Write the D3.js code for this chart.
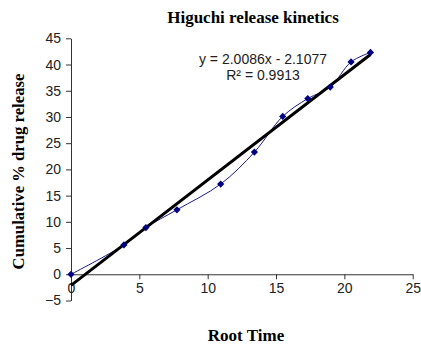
<!DOCTYPE html>
<html>
<head>
<meta charset="utf-8">
<script src="https://cdn.jsdelivr.net/npm/d3@7"></script>
<style>
  body { margin: 0; background: #fff; }
  svg { display: block; }
</style>
</head>
<body>
<svg id="chart" width="421" height="344"></svg>
<script>
// data (root time vs cumulative % release)
const rootTime = [0, 3.87, 5.48, 7.75, 10.95, 13.42, 15.49, 17.32, 18.97, 20.49, 21.91];
const released = [0, 5.6, 8.9, 12.3, 17.2, 23.3, 30.1, 33.5, 35.7, 40.5, 42.3];
const slope = 2.0086, intercept = -2.1077;
const eqLabel = 'y = 2.0086x - 2.1077';
const r2Label = 'R\u00b2 = 0.9913';
const xTicks = [0, 5, 10, 15, 20, 25];
const yTicks = [-5, 0, 5, 10, 15, 20, 25, 30, 35, 40, 45];

const svg = d3.select('#chart');

const x = d3.scaleLinear().domain([0, 25]).range([71, 412.7]);
const y = d3.scaleLinear().domain([-5, 45]).range([300.5, 38.3]);

const axisColor = '#333';

// y axis
const yAxis = svg.append('g')
    .attr('transform', `translate(${x(0)},0)`)
    .call(d3.axisLeft(y).tickValues(yTicks).tickSize(5).tickSizeOuter(0).tickPadding(5));
// x axis at y = 0
const xAxis = svg.append('g')
    .attr('transform', `translate(0,${y(0)})`)
    .call(d3.axisBottom(x).tickValues(xTicks).tickSize(5).tickSizeOuter(0).tickPadding(4));

[yAxis, xAxis].forEach(g => {
    g.select('.domain').attr('stroke', axisColor).attr('stroke-width', 1);
    g.selectAll('.tick line').attr('stroke', axisColor);
    g.selectAll('.tick text')
        .attr('fill', '#222')
        .style('font-family', 'Liberation Sans, Arial, sans-serif')
        .style('font-size', '14px');
});

// data series
const pts = rootTime.map((t, i) => ({t, v: released[i]}));
svg.append('path')
    .attr('fill', 'none').attr('stroke', '#1a1a8c').attr('stroke-width', 1)
    .attr('d', d3.line().x(d => x(d.t)).y(d => y(d.v)).curve(d3.curveCatmullRom)(pts));

// linear trendline
const tEnds = d3.extent(rootTime);
svg.append('line')
    .attr('x1', x(tEnds[0])).attr('y1', y(slope * tEnds[0] + intercept))
    .attr('x2', x(tEnds[1])).attr('y2', y(slope * tEnds[1] + intercept))
    .attr('stroke', '#000').attr('stroke-width', 3);

// diamond markers (rotated squares)
svg.append('g').selectAll('path')
    .data(pts)
    .enter()
    .append('path')
    .attr('d', d3.symbol().type(d3.symbolSquare).size(26))
    .attr('fill', '#000080')
    .attr('transform', d => `translate(${x(d.t)},${y(d.v)}) rotate(45)`);

// equation labels
const eq = svg.append('g')
    .style('font-family', 'Liberation Sans, Arial, sans-serif')
    .style('font-size', '14px').attr('fill', '#222')
    .attr('text-anchor', 'middle');
eq.append('text').attr('x', 263).attr('y', 64).text(eqLabel);
eq.append('text').attr('x', 263).attr('y', 80).text(r2Label);

// titles
const serif = 'Liberation Serif, Times New Roman, serif';
svg.append('text')
    .attr('x', 253).attr('y', 23)
    .attr('text-anchor', 'middle')
    .style('font-family', serif).style('font-weight', 'bold').style('font-size', '17px')
    .text('Higuchi release kinetics');

svg.append('text')
    .attr('x', 246).attr('y', 341)
    .attr('text-anchor', 'middle')
    .style('font-family', serif).style('font-weight', 'bold').style('font-size', '17px')
    .text('Root Time');

svg.append('text')
    .attr('transform', 'translate(24,171.5) rotate(-90)')
    .attr('text-anchor', 'middle')
    .style('font-family', serif).style('font-weight', 'bold').style('font-size', '16.7px')
    .text('Cumulative % drug release');
</script>
</body>
</html>
